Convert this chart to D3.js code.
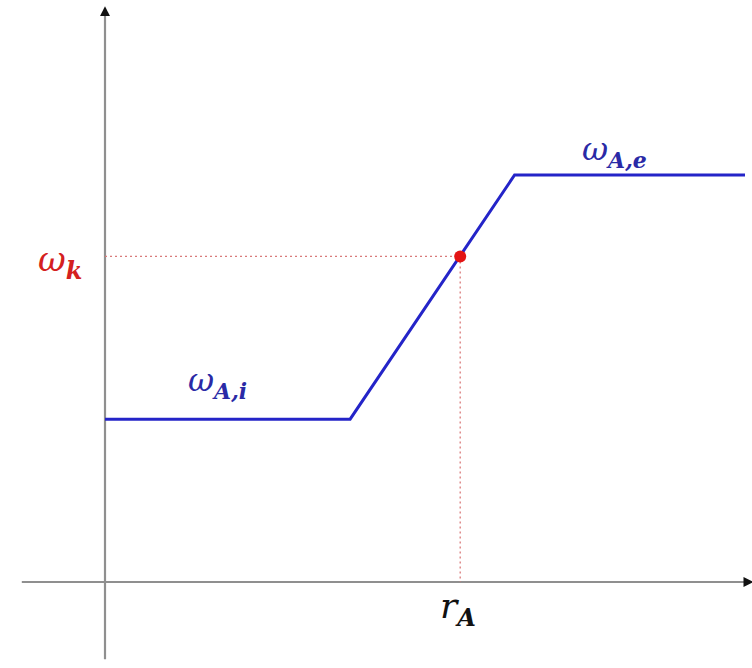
<!DOCTYPE html>
<html>
<head>
<meta charset="utf-8">
<script src="https://cdn.jsdelivr.net/npm/d3@7"></script>
<style>
  html, body { margin: 0; padding: 0; background: #fff; }
  svg { display: block; }
</style>
</head>
<body>
<svg id="chart" width="752" height="668"></svg>
<script>
// Piecewise-linear response: flat at the inner level, ramp, flat at the outer level
const breakX = [0, 38.3, 64, 100];
const breakY = [40, 40, 100, 100];
// Operating point on the ramp
const pointX = [55.5];
const pointY = [80];
// Axis extents in data units
const xExtent = [-13, 101];
const yExtent = [-19, 141];

const svg = d3.select("#chart");
const x = d3.scaleLinear().domain([0, 100]).range([105, 745]);
const y = d3.scaleLinear().domain([0, 100]).range([582, 175]);

const defs = svg.append("defs");
defs.append("marker")
  .attr("id", "arrow")
  .attr("viewBox", "0 0 10 10")
  .attr("refX", 8).attr("refY", 5)
  .attr("markerWidth", 4.5).attr("markerHeight", 4.5)
  .attr("orient", "auto")
  .append("path").attr("d", "M0,0 L10,5 L0,10 Z").attr("fill", "#111");

// Axes
svg.append("line")
  .attr("x1", x(xExtent[0])).attr("x2", x(xExtent[1]))
  .attr("y1", y(0)).attr("y2", y(0))
  .attr("stroke", "#8f8f8f").attr("stroke-width", 2.2)
  .attr("marker-end", "url(#arrow)");
svg.append("line")
  .attr("x1", x(0)).attr("x2", x(0))
  .attr("y1", y(yExtent[0])).attr("y2", y(yExtent[1]))
  .attr("stroke", "#8f8f8f").attr("stroke-width", 2.2)
  .attr("marker-end", "url(#arrow)");

// Dotted guides to the operating point
const guide = "#d97a7a";
svg.append("line")
  .attr("x1", x(0)).attr("x2", x(pointX[0]))
  .attr("y1", y(pointY[0])).attr("y2", y(pointY[0]))
  .attr("stroke", guide).attr("stroke-width", 1.3).attr("stroke-dasharray", "2,3");
svg.append("line")
  .attr("x1", x(pointX[0])).attr("x2", x(pointX[0]))
  .attr("y1", y(pointY[0])).attr("y2", y(0))
  .attr("stroke", guide).attr("stroke-width", 1.3).attr("stroke-dasharray", "2,3");

// Response curve
const pts = breakX.map((d, i) => [d, breakY[i]]);
svg.append("path")
  .datum(pts)
  .attr("d", d3.line().x(d => x(d[0])).y(d => y(d[1])))
  .attr("fill", "none")
  .attr("stroke", "#2424c8")
  .attr("stroke-width", 3);

// Operating point
svg.selectAll("circle.pt")
  .data(pointX.map((d, i) => [d, pointY[i]]))
  .join("circle")
  .attr("class", "pt")
  .attr("cx", d => x(d[0])).attr("cy", d => y(d[1]))
  .attr("r", 6).attr("fill", "#e31414");

// Labels (serif italic, math style)
function label(px, py, main, sub, color, mainSize, subSize) {
  const t = svg.append("text")
    .attr("x", px).attr("y", py)
    .attr("fill", color)
    .attr("font-family", "'DejaVu Serif', 'Liberation Serif', serif")
    .attr("font-style", "italic");
  t.append("tspan").attr("font-size", mainSize).text(main);
  t.append("tspan").attr("font-size", subSize).attr("dy", 8).attr("font-weight", "bold").text(sub);
}
label(38, 271, "ω", "k", "#d42020", 34, 24);
label(188, 391, "ω", "A,i", "#2a2aa6", 32, 22);
label(582, 160, "ω", "A,e", "#2a2aa6", 32, 22);
label(440, 618, "r", "A", "#111", 36, 24);
</script>
</body>
</html>
